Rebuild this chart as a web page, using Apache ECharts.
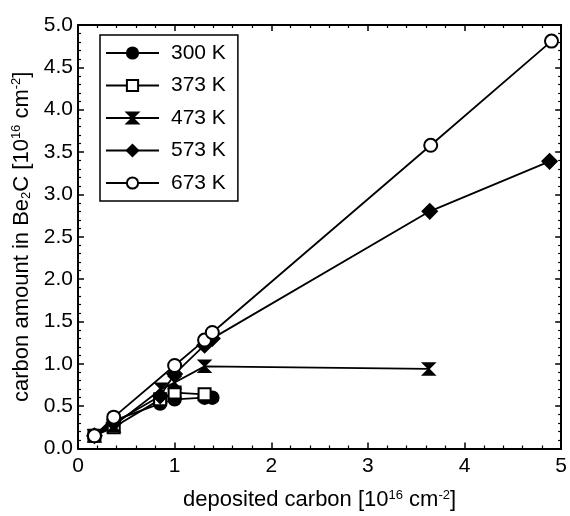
<!DOCTYPE html>
<html>
<head>
<meta charset="utf-8">
<script src="https://cdn.jsdelivr.net/npm/echarts@6/dist/echarts.min.js"></script>
<style>
  html, body { margin: 0; padding: 0; background: #fff; }
  #container { width: 570px; height: 516px; }
</style>
</head>
<body>
<div id="container"></div>
<script>
var dom = document.getElementById("container");
var myChart = echarts.init(dom);

// data: [deposited carbon, carbon in Be2C], both 10^16 cm^-2
var names = ['300 K', '373 K', '473 K', '573 K', '673 K'];
var d300 = [[0.17, 0.15], [0.37, 0.33], [0.85, 0.53], [1.0, 0.58], [1.31, 0.60], [1.39, 0.60]];
var d373 = [[0.17, 0.15], [0.37, 0.25], [0.85, 0.58], [1.0, 0.66], [1.31, 0.64]];
var d473 = [[0.17, 0.15], [0.37, 0.27], [0.86, 0.70], [1.0, 0.78], [1.31, 0.97], [3.63, 0.94]];
var d573 = [[0.17, 0.15], [0.37, 0.30], [0.85, 0.62], [1.0, 0.88], [1.31, 1.22], [1.39, 1.30], [3.64, 2.80], [4.88, 3.39]];
var d673 = [[0.17, 0.15], [0.37, 0.37], [1.0, 0.98], [1.31, 1.28], [1.39, 1.37], [3.65, 3.58], [4.90, 4.81]];
var xTicks = { min: 0, max: 5, interval: 1 };
var yTicks = { min: 0, max: 5, interval: 0.5 };

var font = '"Liberation Sans", Arial, sans-serif';
var hourglass = 'path://M0,0 L10,0 L0,10 L10,10 Z';

var stat = [
  { name: names[0], data: d300, symbol: 'circle', size: 13 },
  { name: names[1], data: d373, symbol: 'emptyRect', size: 12 },
  { name: names[2], data: d473, symbol: hourglass, size: 12 },
  { name: names[3], data: d573, symbol: 'diamond', size: 15 },
  { name: names[4], data: d673, symbol: 'emptyCircle', size: 13 }
];

var nameRich = {
  t: { fontSize: 22, fontFamily: font, color: '#000' },
  sup: { fontSize: 13, fontFamily: font, color: '#000', padding: [0, 0, 10, 0] },
  sub: { fontSize: 13, fontFamily: font, color: '#000', padding: [9, 0, 0, 0] }
};

function frameAxis(pos, t) {
  return {
    type: 'value',
    position: pos,
    min: t.min,
    max: t.max,
    interval: t.interval,
    axisLine: { show: true, onZero: false, lineStyle: { color: '#000', width: 2 } },
    axisTick: { show: true, inside: true, length: 6, lineStyle: { color: '#000', width: 1.5 } },
    minorTick: { show: true, splitNumber: 5, length: 3, lineStyle: { color: '#000', width: 1.2 } },
    axisLabel: { show: false },
    splitLine: { show: false }
  };
}

var option = {
  animation: false,
  backgroundColor: '#fff',
  grid: { left: 78, right: 7, top: 25, bottom: 63 },
  legend: {
    orient: 'vertical',
    left: 100,
    top: 35,
    data: names,
    itemWidth: 53,
    itemHeight: 14,
    itemGap: 10.5,
    padding: [7, 12, 7, 5],
    borderColor: '#000',
    borderWidth: 1.5,
    borderRadius: 0,
    textStyle: { fontFamily: font, fontSize: 21, color: '#000', lineHeight: 22, padding: [0, 0, 0, 7] }
  },
  xAxis: [{
    type: 'value',
    min: xTicks.min,
    max: xTicks.max,
    interval: xTicks.interval,
    axisLine: { show: true, onZero: false, lineStyle: { color: '#000', width: 2 } },
    axisTick: { show: true, inside: true, length: 6, lineStyle: { color: '#000', width: 1.5 } },
    minorTick: { show: true, splitNumber: 5, length: 3, lineStyle: { color: '#000', width: 1.2 } },
    axisLabel: { color: '#000', fontFamily: font, fontSize: 21, margin: 7 },
    splitLine: { show: false },
    name: '{t|deposited carbon [10}{sup|16}{t| cm}{sup|-2}{t|]}',
    nameLocation: 'middle',
    nameGap: 40,
    nameTextStyle: { rich: nameRich }
  }, frameAxis('top', xTicks)],
  yAxis: [{
    type: 'value',
    min: yTicks.min,
    max: yTicks.max,
    interval: yTicks.interval,
    axisLine: { show: true, onZero: false, lineStyle: { color: '#000', width: 2 } },
    axisTick: { show: true, inside: true, length: 6, lineStyle: { color: '#000', width: 1.5 } },
    minorTick: { show: true, splitNumber: 5, length: 3, lineStyle: { color: '#000', width: 1.2 } },
    axisLabel: {
      color: '#000', fontFamily: font, fontSize: 21, margin: 5,
      formatter: function (v) { return v.toFixed(1); }
    },
    splitLine: { show: false },
    name: '{t|carbon amount in Be}{sub|2}{t|C [10}{sup|16}{t| cm}{sup|-2}{t|]}',
    nameLocation: 'middle',
    nameGap: 45,
    nameRotate: 90,
    nameTextStyle: { rich: nameRich }
  }, frameAxis('right', yTicks)],
  series: stat.map(item => ({
    name: item.name,
    type: 'line',
    xAxisIndex: 0,
    yAxisIndex: 0,
    symbol: item.symbol,
    symbolSize: item.size,
    showAllSymbol: true,
    data: item.data,
    lineStyle: { color: '#000', width: 1.8 },
    itemStyle: { color: '#000', borderColor: '#000', borderWidth: 1.5 }
  }))
};

myChart.setOption(option);
</script>
</body>
</html>
